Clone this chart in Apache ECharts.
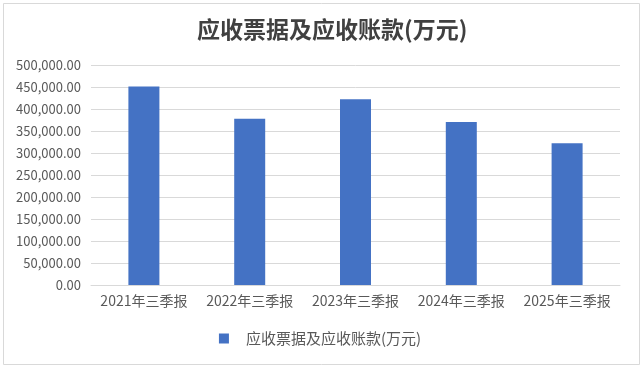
<!DOCTYPE html>
<html>
<head>
<meta charset="utf-8">
<script src="https://cdn.jsdelivr.net/npm/echarts@6/dist/echarts.min.js"></script>
<style>
html,body{margin:0;padding:0;background:#fff;}
#c{width:640px;height:365px;}
</style>
</head>
<body>
<div id="c"></div>
<script>
const categories = ['2021年三季报','2022年三季报','2023年三季报','2024年三季报','2025年三季报'];
const seriesName = '应收票据及应收账款(万元)';
const values = [451000, 378000, 422000, 370500, 322000];
const yTicks = {min: 0, max: 500000, interval: 50000};

const chart = echarts.init(document.getElementById('c'), null, {renderer: 'canvas'});
const FONT = '"Noto Sans CJK SC", "Noto Sans", sans-serif';
chart.setOption({
  animation: false,
  backgroundColor: '#fff',
  graphic: [{
    type: 'rect', left: 1, top: 1, silent: true,
    shape: {width: 636, height: 361},
    style: {fill: 'none', stroke: '#d9d9d9', lineWidth: 1}
  }],
  title: {
    text: seriesName,
    left: 192, top: 13,
    textStyle: {fontFamily: FONT, fontSize: 23, fontWeight: 'bold', color: '#404040'}
  },
  legend: {
    bottom: 14, left: 'center',
    itemWidth: 10, itemHeight: 10, itemGap: 10,
    icon: 'rect',
    textStyle: {fontFamily: FONT, fontSize: 15, color: '#595959', padding: [0, 0, 0, 12]},
    data: [seriesName]
  },
  grid: {left: 91, right: 20, top: 65, bottom: 80, containLabel: false},
  xAxis: {
    type: 'category', data: categories,
    axisLine: {lineStyle: {color: '#d9d9d9'}},
    axisTick: {show: false},
    axisLabel: {fontFamily: FONT, fontSize: 14, color: '#595959', margin: 9, interval: 0, hideOverlap: false}
  },
  yAxis: {
    type: 'value', min: yTicks.min, max: yTicks.max, interval: yTicks.interval,
    axisLine: {show: false}, axisTick: {show: false},
    splitLine: {lineStyle: {color: '#d9d9d9'}},
    axisLabel: {
      fontFamily: FONT, fontSize: 13, color: '#595959', margin: 10,
      formatter: v => v.toLocaleString('en-US', {minimumFractionDigits: 2, maximumFractionDigits: 2})
    }
  },
  series: [{
    name: seriesName, type: 'bar', data: values, barWidth: 31,
    itemStyle: {color: '#4472c4'}
  }]
});
</script>
</body>
</html>
